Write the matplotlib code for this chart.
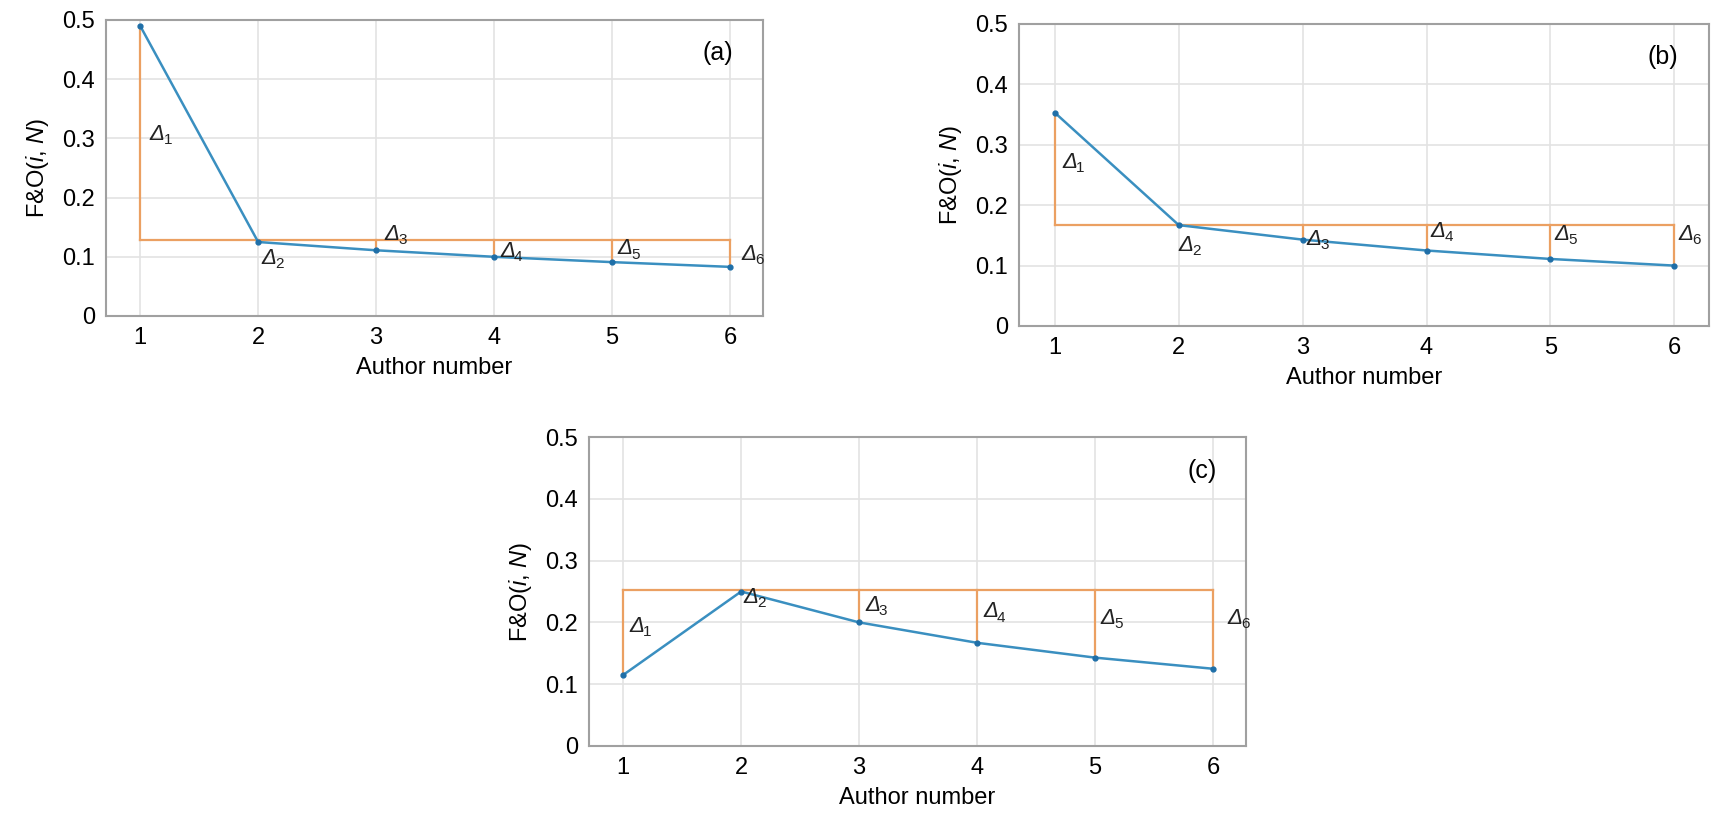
import numpy as np
import matplotlib.pyplot as plt

plt.rcParams['font.family'] = ['Liberation Sans', 'DejaVu Sans']
plt.rcParams['mathtext.fontset'] = 'custom'
plt.rcParams['mathtext.it'] = 'Liberation Sans:italic'
plt.rcParams['mathtext.rm'] = 'Liberation Sans'

authors = [1, 2, 3, 4, 5, 6]
fo_a = [0.490, 0.125, 0.111, 0.100, 0.091, 0.083]
fo_b = [0.353, 0.167, 0.143, 0.125, 0.111, 0.100]
fo_c = [0.115, 0.250, 0.200, 0.167, 0.143, 0.125]
level_a = 0.128
level_b = 0.167
level_c = 0.252
yticks = [0, 0.1, 0.2, 0.3, 0.4, 0.5]
ytick_labels = ['0', '0.1', '0.2', '0.3', '0.4', '0.5']

# label offsets (x, y) for the delta annotations of each panel
delta_pos_a = [(1.08, 0.298), (2.03, 0.088), (3.07, 0.128), (4.05, 0.100), (5.05, 0.104), (6.1, 0.095)]
delta_pos_b = [(1.06, 0.262), (2.0, 0.124), (3.03, 0.134), (4.03, 0.148), (5.03, 0.142), (6.03, 0.142)]
delta_pos_c = [(1.05, 0.185), (2.02, 0.232), (3.05, 0.218), (4.05, 0.208), (5.05, 0.198), (6.12, 0.198)]

blue = '#3a8fc0'
orange = '#eba062'

fig = plt.figure(figsize=(17.21, 8.16), dpi=100)
W, H = 1721.0, 816.0
boxes = {
    'a': (106, 20, 763, 316),
    'b': (1019, 24, 1709, 326),
    'c': (589, 437, 1246, 746),
}


def panel(key, vals, level, dpos):
    l, t, r, b = boxes[key]
    ax = fig.add_axes([l / W, 1 - b / H, (r - l) / W, (b - t) / H])
    # orange reference frame
    ax.plot([authors[0], authors[-1]], [level, level], color=orange, lw=1.6, zorder=2)
    for x, v in zip(authors, vals):
        ax.plot([x, x], [level, v], color=orange, lw=1.6, zorder=2)
    ax.plot(authors, vals, color=blue, lw=1.8, marker='o', ms=3.5,
            mfc='#1f6fa8', mec='#1f6fa8', zorder=3)
    for i, (px, py) in enumerate(dpos):
        ax.text(px, py, '\u0394', style='italic', fontsize=16, color='#222222')
        ax.annotate(str(i + 1), xy=(px, py), xytext=(10, -3), textcoords='offset points',
                    fontsize=11, color='#222222')
    ax.set_xlim(0.71, 6.28)
    ax.set_ylim(0, 0.5)
    ax.set_xticks(authors)
    ax.set_yticks(yticks)
    ax.set_yticklabels(ytick_labels)
    ax.tick_params(length=0, labelsize=17, pad=8)
    ax.grid(True, color='#e3e3e3', lw=1.2)
    ax.set_axisbelow(True)
    for s in ax.spines.values():
        s.set_color('#a0a0a0')
        s.set_linewidth(1.5)
    ax.set_xlabel('Author number', fontsize=17, labelpad=6)
    ax.set_ylabel(r'F&O($i$, $N$)', fontsize=17, labelpad=8)
    ax.text(0.955, 0.93, '(%s)' % key, transform=ax.transAxes, fontsize=18,
            ha='right', va='top')
    return ax


panel('a', fo_a, level_a, delta_pos_a)
panel('b', fo_b, level_b, delta_pos_b)
panel('c', fo_c, level_c, delta_pos_c)

fig.savefig('out.png', dpi=100, facecolor='white')
